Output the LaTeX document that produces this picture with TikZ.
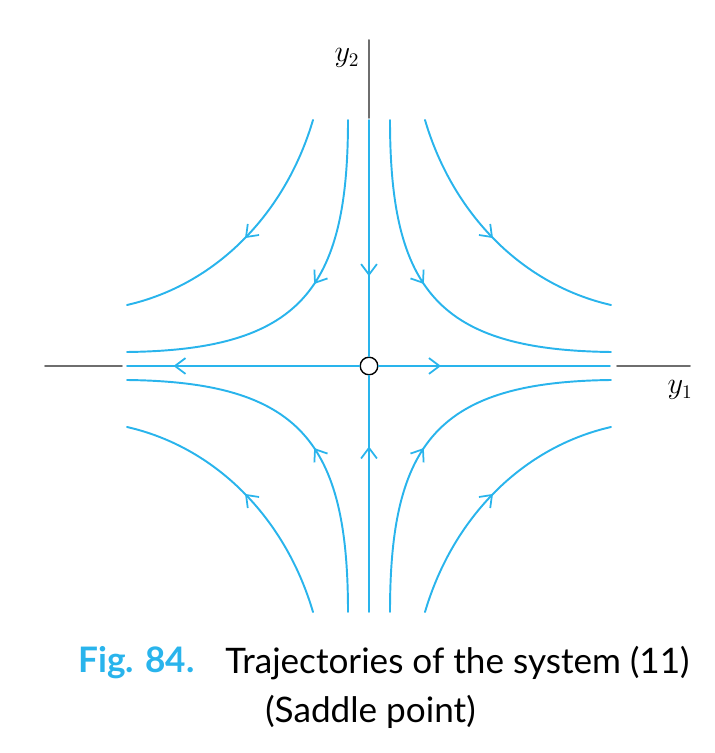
\documentclass[tikz,border=0pt]{standalone}
\usepackage{fontspec}
\setmainfont{Lato}
\usetikzlibrary{arrows.meta,decorations.markings}
\definecolor{trajblue}{RGB}{41,180,236}
\definecolor{axisgray}{RGB}{110,110,110}
\tikzset{
  traj/.style={trajblue, line width=1.1pt},
  midarrow/.style={postaction={decorate},decoration={markings,
    mark=at position #1 with {\arrow{Straight Barb[length=6pt,width=9pt,line width=1pt]}}}},
  axis/.style={axisgray, line width=1.1pt}
}
\begin{document}
\begin{tikzpicture}[x=0.02cm, y=0.02cm, line cap=round, line join=round]
\useasboundingbox (-369,-387) rectangle (346,366);

% axes
\draw[axis] (-324,0) -- (-247,0);
\draw[axis] (248,0) -- (321,0);
\draw[axis] (0,248) -- (0,326);
\node (y2) at (-22,308) {\fontsize{16}{18}\selectfont$y_2$};
\node (y1) at (311,-24) {\fontsize{16}{18}\selectfont$y_1$};

% trajectories in the four quadrants
\foreach \sx/\sy in {1/1,-1/1,1/-1,-1/-1}{
\begin{scope}[xscale=\sx, yscale=\sy]
\draw[traj, midarrow=0.5] (-56,246) .. controls (-84,151) and (-154,81) .. (-242,61);
\draw[traj, midarrow=0.45] (-21,246) .. controls (-21,76) and (-69,16) .. (-242,14);
\end{scope}
}

% straight-line trajectories
\coordinate (L) at (-242,0);
\coordinate (R) at (241,0);
\coordinate (T) at (0,246);
\coordinate (B) at (0,-246);
\node[circle, draw=black, fill=white, line width=0.8pt, inner sep=0pt, minimum size=10pt] (O) at (0,0) {};
\draw[traj, midarrow=0.8] (O) -- (L);
\draw[traj, midarrow=0.27] (O) -- (R);
\draw[traj, midarrow=0.66] (T) -- (O);
\draw[traj, midarrow=0.7] (B) -- (O);

% caption
\node[anchor=west, trajblue, inner sep=0pt] (fig) at (-291,-297) {\fontsize{20}{24}\selectfont\bfseries Fig. 84.};
\node[anchor=west, inner sep=0pt] (cap1) at (-144,-297) {\fontsize{20}{24}\selectfont Trajectories of the system (11)};
\node[anchor=west, inner sep=0pt] (cap2) at (-104,-346) {\fontsize{20}{24}\selectfont (Saddle point)};
\end{tikzpicture}
\end{document}
